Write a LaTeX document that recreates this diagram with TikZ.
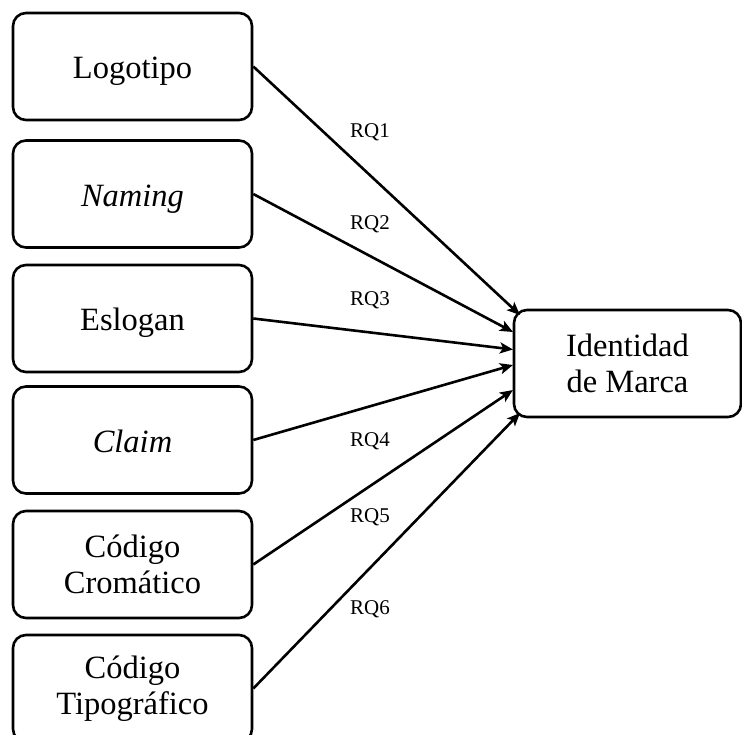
\documentclass[tikz,border=0pt]{standalone}
\usepackage{fontspec}
\setmainfont{Liberation Serif}
\usetikzlibrary{arrows.meta}
\begin{document}
\begin{tikzpicture}[x=1pt,y=-1pt,
  box/.style={draw,line width=2.6pt,rounded corners=13pt,minimum width=239pt,minimum height=107pt,
    align=center,inner sep=0pt,font=\fontsize{32.5}{36.5}\selectfont},
  onebox/.style={box,text height=25pt,text depth=0pt},
  conn/.style={line width=2.6pt,-{Stealth[length=13pt,width=11pt,inset=3pt]}},
  rq/.style={font=\fontsize{21}{24}\selectfont,inner sep=0pt}]
\useasboundingbox (0,0) rectangle (742,735);
\clip (0,0) rectangle (742,735);
\node[onebox] (l1) at (132.5,66.5) {Logotipo};
\node[onebox] (l2) at (132.5,194) {\itshape Naming};
\node[onebox] (l3) at (132.5,318.5) {Eslogan};
\node[onebox] (l4) at (132.5,440) {\itshape Claim};
\node[box] (l5) at (132.5,564.5) {Código\\Cromático};
\node[box] (l6) at (132.5,688.5) {Código\\Tipográfico};
\node[box,minimum width=227pt] (r) at (627.5,363.5) {Identidad\\de Marca};
\coordinate (t1) at (520,315);
\coordinate (t2) at (513,332);
\coordinate (t3) at (513,349.5);
\coordinate (t4) at (513,365);
\coordinate (t5) at (513,390);
\coordinate (t6) at (520,413);
\draw[conn] (l1.east) -- (t1);
\draw[conn] (l2.east) -- (t2);
\draw[conn] (l3.east) -- (t3);
\draw[conn] (l4.east) -- (t4);
\draw[conn] (l5.east) -- (t5);
\draw[conn] (l6.east) -- (t6);
\node[rq] (q1) at (370,132) {RQ1};
\node[rq] (q2) at (370,224) {RQ2};
\node[rq] (q3) at (370,300) {RQ3};
\node[rq] (q4) at (370,441) {RQ4};
\node[rq] (q5) at (370,517) {RQ5};
\node[rq] (q6) at (370,609) {RQ6};
\end{tikzpicture}
\end{document}
